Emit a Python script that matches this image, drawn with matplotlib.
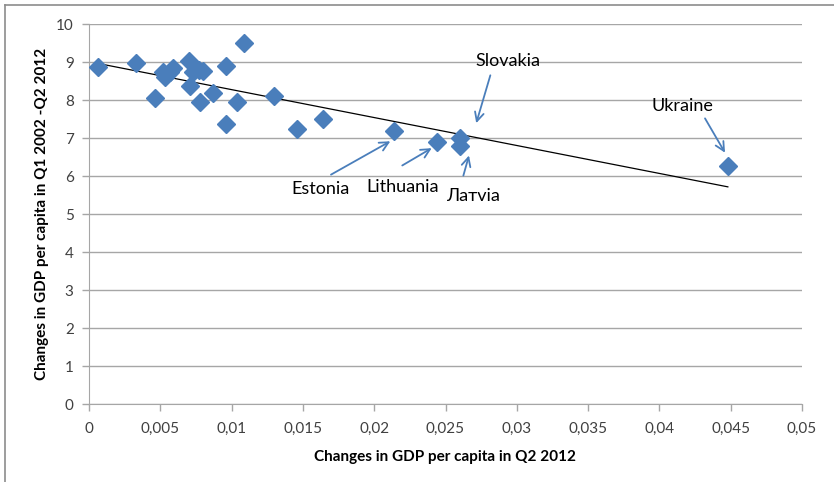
import numpy as np
import matplotlib
matplotlib.use("Agg")
import matplotlib.pyplot as plt
from matplotlib.lines import Line2D

plt.rcParams['font.family'] = ['Lato', 'DejaVu Sans']

# Changes in GDP per capita in Q2 2012 (x) vs Q1 2002 - Q2 2012 (y)
gdp_q2_2012 = [0.0006, 0.0033, 0.0046, 0.0052, 0.0053, 0.0057, 0.0059, 0.0070,
               0.0071, 0.0073, 0.0077, 0.0078, 0.0080, 0.0087, 0.0096, 0.0096,
               0.0104, 0.0109, 0.0130, 0.0146, 0.0164, 0.0214, 0.0244, 0.0260,
               0.0260, 0.0448]
gdp_2002_2012 = [8.88, 8.97, 8.06, 8.73, 8.60, 8.74, 8.85, 9.02,
                 8.36, 8.74, 8.78, 7.94, 8.77, 8.19, 8.90, 7.38,
                 7.96, 9.49, 8.10, 7.24, 7.49, 7.18, 6.90, 6.99,
                 6.80, 6.27]

x_ticks = [0, 0.005, 0.01, 0.015, 0.02, 0.025, 0.03, 0.035, 0.04, 0.045, 0.05]
x_tick_labels = ['0', '0,005', '0,01', '0,015', '0,02', '0,025', '0,03',
                 '0,035', '0,04', '0,045', '0,05']
y_ticks = list(range(0, 11))

# country labels: (text, text position, arrow start, arrow tip)
labels = [
    ('Slovakia', (0.0294, 9.03), (0.0282, 8.72), (0.0271, 7.32)),
    ('Estonia', (0.0162, 5.65), (0.0168, 6.00), (0.0213, 6.95)),
    ('Lithuania', (0.0220, 5.72), (0.0218, 6.24), (0.0242, 6.77)),
    ('Латvia', (0.0269, 5.48), (0.0262, 5.94), (0.0267, 6.61)),
    ('Ukraine', (0.0416, 7.84), (0.0431, 7.58), (0.0447, 6.55)),
]

blue = '#4a7ebb'
grid_gray = '#a6a6a6'

fig = plt.figure(figsize=(8.34, 4.82), dpi=100)
ax = fig.add_axes([89 / 834, 1 - 404 / 482, (802 - 89) / 834, (404 - 24) / 482])

x = np.array(gdp_q2_2012)
y = np.array(gdp_2002_2012)

# linear trendline over the data range
slope, intercept = np.polyfit(x, y, 1)
xs = np.array([x.min(), x.max()])
ax.plot(xs, slope * xs + intercept, color='black', linewidth=0.9, zorder=2)

ax.plot(x, y, linestyle='none', marker='D', markersize=9, color=blue,
        markeredgecolor=blue, zorder=3)

for text, txy, start, tip in labels:
    ax.text(txy[0], txy[1], text, ha='center', va='center', fontsize=13,
            color='black')
    ax.annotate('', xy=tip, xytext=start,
                arrowprops=dict(arrowstyle='->', color=blue, lw=1.3,
                                mutation_scale=16))

ax.set_xlim(0, 0.05)
ax.set_ylim(0, 10)
ax.set_xticks(x_ticks)
ax.set_xticklabels(x_tick_labels)
ax.set_yticks(y_ticks)
ax.yaxis.grid(True, color=grid_gray, linewidth=1)
ax.set_axisbelow(True)
ax.tick_params(axis='both', colors=grid_gray, labelcolor='#404040',
               labelsize=11, length=5, width=1)
ax.tick_params(axis='x', pad=8)
ax.tick_params(axis='y', pad=6)
for side in ['top', 'right']:
    ax.spines[side].set_visible(False)
for side in ['left', 'bottom']:
    ax.spines[side].set_color(grid_gray)

ax.set_xlabel('Changes in GDP per capita in Q2 2012', fontsize=11,
              fontweight='bold', labelpad=10)
ax.set_ylabel('Changes in GDP per capita in Q1 2002 -Q2 2012', fontsize=11,
              fontweight='bold', labelpad=5)

# outer chart frame (top and left edges only)
fig.add_artist(Line2D([5 / 834, 1], [1 - 5 / 482, 1 - 5 / 482],
                      color='#8c8c8c', linewidth=1.2, transform=fig.transFigure))
fig.add_artist(Line2D([5 / 834, 5 / 834], [0, 1 - 5 / 482],
                      color='#8c8c8c', linewidth=1.2, transform=fig.transFigure))

fig.savefig('out.png', dpi=100)
